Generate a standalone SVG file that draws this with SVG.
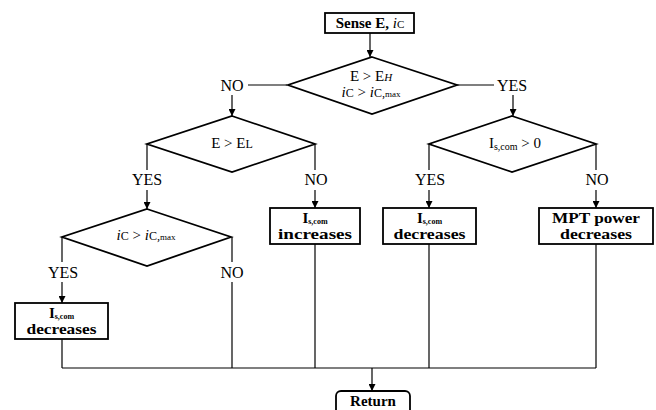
<svg xmlns="http://www.w3.org/2000/svg" width="656" height="410" viewBox="0 0 656 410">
<defs>
<marker id="ah" viewBox="0 0 10 10" refX="10" refY="5" markerWidth="7" markerHeight="7" markerUnits="userSpaceOnUse" orient="auto">
<path d="M0,0 L10,5 L0,10 Z" fill="#000"/>
</marker>
<style>
.shape{fill:#fff;stroke:#000;stroke-width:1.8}
.conn{fill:none;stroke:#000;stroke-width:1.2}
text{font-family:"Liberation Serif","DejaVu Serif",serif;fill:#000;text-anchor:middle}
.lbl{font-size:16px}
.bx{font-size:15px;font-weight:bold}
.cond{font-size:15px}
.it{font-style:italic}
</style>
</defs>
<rect width="656" height="410" fill="#fff"/>
<g id="connectors">
<line class="conn" x1="370" y1="33" x2="370" y2="57" marker-end="url(#ah)"/>
<line class="conn" x1="248" y1="85" x2="287" y2="85"/>
<line class="conn" x1="457" y1="85" x2="494" y2="85"/>
<line class="conn" x1="232" y1="95" x2="232" y2="116" marker-end="url(#ah)"/>
<line class="conn" x1="513" y1="95" x2="513" y2="116" marker-end="url(#ah)"/>
<line class="conn" x1="147" y1="144" x2="147" y2="170"/>
<line class="conn" x1="147" y1="190" x2="147" y2="209" marker-end="url(#ah)"/>
<line class="conn" x1="315" y1="144" x2="315" y2="170"/>
<line class="conn" x1="315" y1="190" x2="315" y2="208" marker-end="url(#ah)"/>
<line class="conn" x1="429" y1="144" x2="429" y2="170"/>
<line class="conn" x1="429" y1="190" x2="429" y2="208" marker-end="url(#ah)"/>
<line class="conn" x1="596" y1="144" x2="596" y2="170"/>
<line class="conn" x1="596" y1="190" x2="596" y2="208" marker-end="url(#ah)"/>
<line class="conn" x1="62" y1="237" x2="62" y2="262"/>
<line class="conn" x1="62" y1="282" x2="62" y2="303" marker-end="url(#ah)"/>
<line class="conn" x1="232" y1="237" x2="232" y2="262"/>
<line class="conn" x1="232" y1="282" x2="232" y2="368"/>
<line class="conn" x1="62" y1="339" x2="62" y2="368"/>
<line class="conn" x1="315" y1="244" x2="315" y2="368"/>
<line class="conn" x1="429" y1="244" x2="429" y2="368"/>
<line class="conn" x1="596" y1="244" x2="596" y2="368"/>
<line class="conn" x1="62" y1="368" x2="596" y2="368"/>
<line class="conn" x1="372" y1="368" x2="372" y2="391" marker-end="url(#ah)"/>
<text class="lbl" x="232" y="91">NO</text>
<text class="lbl" x="512" y="91">YES</text>
<text class="lbl" x="147" y="185">YES</text>
<text class="lbl" x="316" y="185">NO</text>
<text class="lbl" x="430" y="185">YES</text>
<text class="lbl" x="597" y="185">NO</text>
<text class="lbl" x="63" y="278">YES</text>
<text class="lbl" x="232" y="278">NO</text>
</g>
<g id="sense">
<rect class="shape" x="325" y="13" width="89" height="20"/>
<text class="bx" x="370" y="28">Sense E, <tspan class="it" font-weight="normal">i</tspan><tspan font-weight="normal" font-size="11">C</tspan></text>
</g>
<g id="d1">
<polygon class="shape" points="372,57 457,85 372,114 288,85"/>
<text class="cond" x="371" y="81">E &gt; E<tspan font-size="11" font-style="italic">H</tspan></text>
<text class="cond" x="371" y="97"><tspan class="it">i</tspan><tspan font-size="12">C</tspan> &gt; <tspan class="it">i</tspan><tspan font-size="12">C,</tspan><tspan font-size="9">max</tspan></text>
</g>
<g id="d2">
<polygon class="shape" points="232,116 315,144 232,172 147,144"/>
<text class="cond" x="232" y="148">E &gt; E<tspan font-size="12">L</tspan></text>
</g>
<g id="d3">
<polygon class="shape" points="147,209 231,237 147,266 62,237"/>
<text class="cond" x="146" y="240"><tspan class="it">i</tspan><tspan font-size="12">C</tspan> &gt; <tspan class="it">i</tspan><tspan font-size="12">C,</tspan><tspan font-size="9">max</tspan></text>
</g>
<g id="d4">
<polygon class="shape" points="512,116 596,144 512,172 429,144"/>
<text class="cond" x="515" y="148">I<tspan font-size="10" dy="2">s,com</tspan><tspan dy="-2"> &gt; 0</tspan></text>
</g>
<g id="b_inc">
<rect class="shape" x="270" y="208" width="90" height="36"/>
<text class="bx" x="315" y="223" font-size="12">I<tspan font-size="8" dy="1">s,com</tspan></text>
<text class="bx" x="315" y="239" textLength="74" lengthAdjust="spacingAndGlyphs">increases</text>
</g>
<g id="b_dec1">
<rect class="shape" x="383" y="208" width="93" height="36"/>
<text class="bx" x="429.5" y="223" font-size="12">I<tspan font-size="8" dy="1">s,com</tspan></text>
<text class="bx" x="429.5" y="239" textLength="72" lengthAdjust="spacingAndGlyphs">decreases</text>
</g>
<g id="b_mpt">
<rect class="shape" x="539" y="208" width="114" height="36"/>
<text class="bx" x="596" y="223" textLength="88" lengthAdjust="spacingAndGlyphs">MPT power</text>
<text class="bx" x="596" y="239" textLength="72" lengthAdjust="spacingAndGlyphs">decreases</text>
</g>
<g id="b_dec2">
<rect class="shape" x="15" y="303" width="93" height="36"/>
<text class="bx" x="61.5" y="318" font-size="12">I<tspan font-size="8" dy="1">s,com</tspan></text>
<text class="bx" x="61.5" y="334" textLength="70" lengthAdjust="spacingAndGlyphs">decreases</text>
</g>
<g id="ret">
<rect class="shape" x="336" y="391" width="74" height="26" rx="5"/>
<text class="bx" x="373" y="406">Return</text>
</g>
</svg>
